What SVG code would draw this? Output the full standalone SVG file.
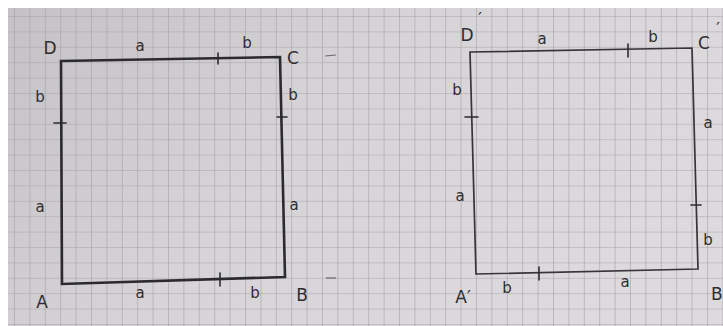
<svg xmlns="http://www.w3.org/2000/svg" width="723" height="326" viewBox="0 0 723 326">
  <defs>
    <linearGradient id="paper" x1="0" y1="0" x2="1" y2="0.4">
      <stop offset="0" stop-color="#c5c2c5"/>
      <stop offset="0.5" stop-color="#d7d4d7"/>
      <stop offset="1" stop-color="#dddadd"/>
    </linearGradient>
    <pattern id="grid" patternUnits="userSpaceOnUse" x="14" y="16" width="15.4" height="15.4">
      <path d="M0 0 H15.4 M0 0 V15.4" fill="none" stroke="#a5a2a6" stroke-width="1.2"/>
    </pattern>
    <style>
      .ink { fill: none; stroke: #2b2a2c; stroke-linecap: round; stroke-linejoin: miter; }
      .sq1 { stroke-width: 2.6; }
      .sq2 { stroke-width: 1.7; stroke: #363537; }
      .tick { fill: none; stroke: #2b2a2c; stroke-width: 1.6; stroke-linecap: round; }
      .faint { fill: none; stroke: #6a686b; stroke-width: 1.2; }
      text { font-family: "DejaVu Sans", "Liberation Sans", sans-serif; font-size: 15px; fill: #2e2d30; text-anchor: middle; dominant-baseline: central; }
      .big { font-size: 17px; }
      .prime { font-size: 16px; }
      .edge { text-anchor: start; }
    </style>
  </defs>

  <!-- paper -->
  <rect x="0" y="0" width="723" height="326" fill="#ffffff"/>
  <rect x="8" y="8" width="715" height="318" fill="url(#paper)"/>
  <rect x="8" y="8" width="715" height="318" fill="url(#grid)"/>

  <!-- left square ABCD -->
  <g id="square-ABCD">
    <polygon class="ink sq1" points="61,61 280,57 285,277 62,284"/>
    <line class="tick" x1="218" y1="53" x2="218" y2="64"/>
    <line class="tick" x1="54" y1="123" x2="66" y2="123"/>
    <line class="tick" x1="277" y1="117" x2="287" y2="117"/>
    <line class="tick" x1="220" y1="273" x2="220" y2="286"/>
    <line class="faint" x1="325" y1="56" x2="336" y2="55"/>
    <line class="faint" x1="326" y1="278" x2="336" y2="278"/>
    <text class="big" x="50" y="48">D</text>
    <text x="140" y="46">a</text>
    <text x="247" y="43">b</text>
    <text class="big" x="293" y="58">C</text>
    <text x="40" y="97">b</text>
    <text x="40" y="207">a</text>
    <text x="293" y="95">b</text>
    <text x="294" y="205">a</text>
    <text class="big" x="42" y="302">A</text>
    <text x="140" y="293">a</text>
    <text x="255" y="293">b</text>
    <text class="big" x="302" y="295">B</text>
  </g>

  <!-- right square A'B'C'D' -->
  <g id="square-A1B1C1D1">
    <polygon class="ink sq2" points="470,52 692,48 698,269 476,274"/>
    <line class="tick" x1="628" y1="44" x2="628" y2="57"/>
    <line class="tick" x1="465" y1="117" x2="478" y2="117"/>
    <line class="tick" x1="691" y1="205" x2="701" y2="205"/>
    <line class="tick" x1="539" y1="267" x2="539" y2="280"/>
    <text class="big" x="467" y="35">D</text>
    <text class="prime" x="480" y="18">′</text>
    <text x="542" y="39">a</text>
    <text x="653" y="37">b</text>
    <text class="big" x="704" y="43">C</text>
    <text class="prime" x="718" y="28">′</text>
    <text x="457" y="90">b</text>
    <text x="460" y="196">a</text>
    <text x="708" y="123">a</text>
    <text x="708" y="240">b</text>
    <text class="big" x="463" y="297">A′</text>
    <text x="507" y="288">b</text>
    <text x="625" y="282">a</text>
    <text class="big edge" x="711" y="294">B</text>
  </g>
</svg>
